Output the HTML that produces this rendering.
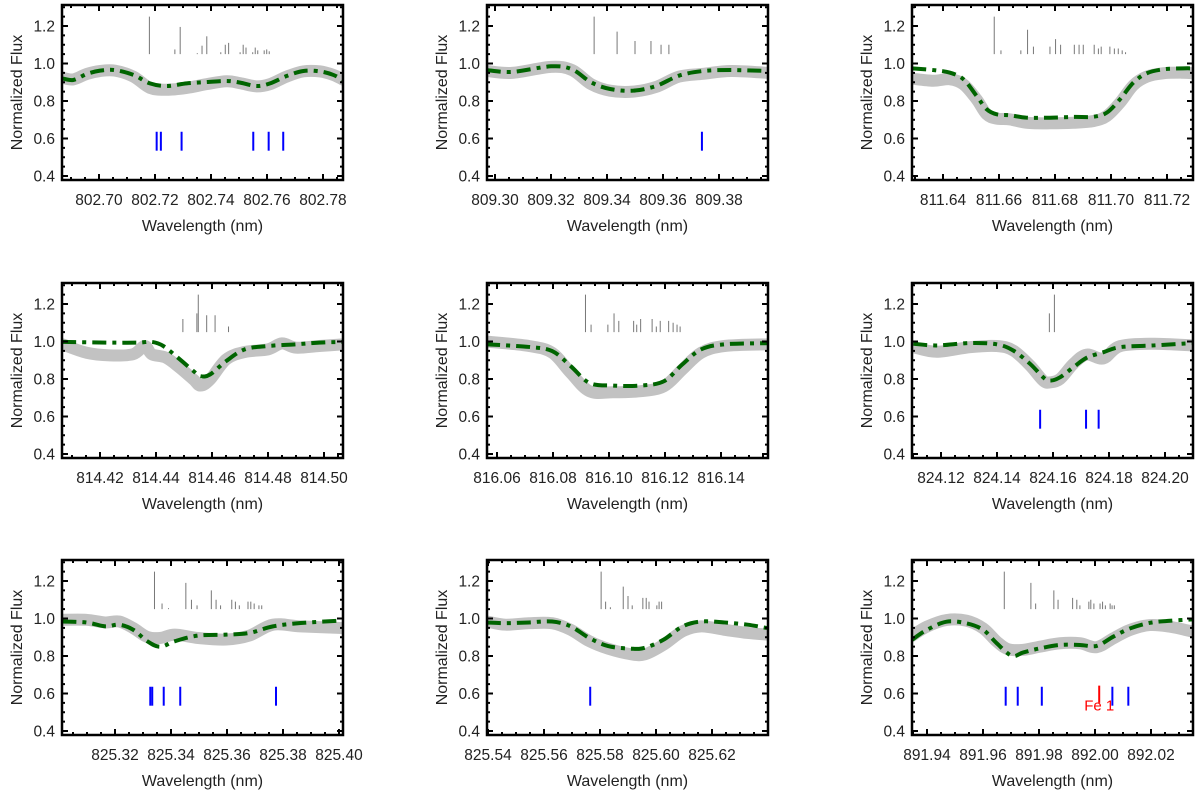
<!DOCTYPE html>
<html><head><meta charset="utf-8"><style>
html,body{margin:0;padding:0;background:#fff;}
svg{display:block;font-family:"Liberation Sans",Arial,sans-serif;}
</style></head><body>
<svg id="fig" width="1200" height="791" viewBox="0 0 1200 791" xmlns="http://www.w3.org/2000/svg"></svg>
<script>
// ---- Data (wavelength in nm, normalized flux) ----
const yTickValues = [1.2, 1.0, 0.8, 0.6, 0.4];
const yTickLabels = ["1.2", "1.0", "0.8", "0.6", "0.4"];
const xMins = [802.68679, 809.29714, 811.62893, 814.40643, 816.05643, 824.10964, 825.30107, 825.53964, 891.93464];
const xFirstTicks = [802.70, 809.30, 811.64, 814.42, 816.06, 824.12, 825.32, 825.54, 891.94];

const p1Wave = [802.6868,802.6908,802.6956,802.7004,802.7057,802.7123,802.7182,802.7242,802.7313,802.7385,802.7456,802.7504,802.7563,802.7611,802.7670,802.7730,802.7789,802.7837,802.7870];
const p1Model = [0.921,0.912,0.944,0.962,0.965,0.939,0.894,0.880,0.894,0.901,0.907,0.898,0.880,0.894,0.933,0.960,0.958,0.939,0.912];
const p1Obs = [0.925,0.915,0.944,0.960,0.962,0.930,0.870,0.860,0.870,0.890,0.905,0.895,0.878,0.890,0.930,0.958,0.958,0.939,0.915];
const p1StickWave = [802.7180,802.7271,802.7290,802.7351,802.7368,802.7385,802.7435,802.7451,802.7463,802.7504,802.7515,802.7525,802.7549,802.7558,802.7567,802.7590,802.7599,802.7608];
const p1StickTop = [1.25,1.075,1.195,1.055,1.095,1.145,1.06,1.10,1.11,1.06,1.10,1.085,1.06,1.085,1.07,1.07,1.075,1.065];
const p1Blue = [802.7206,802.7221,802.7295,802.7551,802.7606,802.7658];

const p2Wave = [809.2971,809.3061,809.3200,809.3275,809.3343,809.3411,809.3493,809.3575,809.3657,809.3743,809.3843,809.3975];
const p2Model = [0.965,0.955,0.985,0.969,0.900,0.864,0.855,0.880,0.935,0.960,0.965,0.960];
const p2Obs = [0.960,0.950,0.982,0.965,0.890,0.855,0.850,0.875,0.930,0.945,0.960,0.950];
const p2StickWave = [809.3354,809.3436,809.3500,809.3557,809.3593,809.3621];
const p2StickTop = [1.25,1.17,1.12,1.12,1.10,1.10];
const p2Blue = [809.3739];

const p3Wave = [811.6290,811.6365,811.6425,811.6473,811.6520,811.6556,811.6592,811.6639,811.6699,811.6782,811.6866,811.6937,811.6985,811.7032,811.7080,811.7128,811.7187,811.7258,811.7294];
const p3Model = [0.974,0.965,0.951,0.916,0.827,0.756,0.729,0.724,0.711,0.711,0.715,0.716,0.738,0.809,0.898,0.948,0.969,0.974,0.974];
const p3Obs = [0.919,0.908,0.916,0.889,0.809,0.729,0.706,0.702,0.684,0.681,0.684,0.693,0.720,0.791,0.884,0.930,0.948,0.951,0.948];
const p3StickWave = [811.6583,811.6607,811.6678,811.6702,811.6723,811.6782,811.6802,811.6820,811.6869,811.6886,811.6901,811.6940,811.6955,811.6965,811.6996,811.7012,811.7026,811.7040,811.7052];
const p3StickTop = [1.25,1.07,1.07,1.18,1.09,1.09,1.13,1.10,1.10,1.10,1.10,1.10,1.08,1.09,1.09,1.08,1.08,1.07,1.06];
const p3Blue = [];

const p4Wave = [814.4065,814.4235,814.4335,814.4385,814.4426,814.4485,814.4534,814.4559,814.4593,814.4651,814.4717,814.4800,814.4900,814.4983,814.5070];
const p4Model = [0.998,0.994,0.994,0.998,0.976,0.905,0.842,0.815,0.824,0.896,0.958,0.976,0.985,0.994,0.998];
const p4ObsWave = [814.4065,814.4152,814.4235,814.4318,814.4360,814.4385,814.4435,814.4485,814.4534,814.4559,814.4593,814.4651,814.4717,814.4800,814.4850,814.4900,814.4983,814.5070];
const p4Obs = [0.985,0.940,0.926,0.932,0.976,0.932,0.914,0.860,0.797,0.765,0.797,0.905,0.944,0.958,0.990,0.967,0.976,0.985];
const p4StickWave = [814.4496,814.4546,814.4551,814.4581,814.4611,814.4659];
const p4StickTop = [1.12,1.15,1.25,1.14,1.14,1.08];
const p4Blue = [];

const p5Wave = [816.0561,816.0714,816.0797,816.0863,816.0930,816.1013,816.1113,816.1196,816.1262,816.1329,816.1412,816.1565];
const p5Model = [0.985,0.971,0.949,0.869,0.779,0.765,0.765,0.788,0.878,0.958,0.985,0.991];
const p5Obs = [1.000,0.976,0.940,0.833,0.735,0.729,0.735,0.761,0.851,0.940,0.976,0.985];
const p5StickWave = [816.0916,816.0936,816.0996,816.1018,816.1035,816.1088,816.1099,816.1113,816.1154,816.1169,816.1183,816.1213,816.1229,816.1243,816.1254];
const p5StickTop = [1.25,1.09,1.09,1.15,1.11,1.11,1.09,1.12,1.12,1.08,1.11,1.11,1.10,1.09,1.08];
const p5Blue = [];

const p6Wave = [824.1101,824.1185,824.1304,824.1399,824.1458,824.1518,824.1565,824.1589,824.1625,824.1673,824.1720,824.1780,824.1839,824.1958,824.2099];
const p6Model = [0.988,0.979,0.992,0.985,0.952,0.881,0.809,0.791,0.809,0.863,0.913,0.943,0.970,0.979,0.992];
const p6Obs = [0.970,0.945,0.970,0.976,0.952,0.872,0.791,0.782,0.800,0.881,0.930,0.910,0.975,0.988,0.979];
const p6StickWave = [824.1587,824.1605];
const p6StickTop = [1.15,1.25];
const p6Blue = [824.1554,824.1718,824.1763];

const p7Wave = [825.3012,825.3098,825.3165,825.3215,825.3265,825.3315,825.3361,825.3414,825.3497,825.3597,825.3680,825.3764,825.3863,825.4013];
const p7Model = [0.984,0.979,0.958,0.967,0.940,0.879,0.849,0.879,0.909,0.914,0.923,0.958,0.976,0.989];
const p7Obs = [0.993,0.993,0.979,0.984,0.949,0.902,0.896,0.914,0.896,0.888,0.909,0.967,0.958,0.949];
const p7StickWave = [825.3341,825.3368,825.3391,825.3453,825.3473,825.3493,825.3544,825.3561,825.3577,825.3617,825.3630,825.3644,825.3675,825.3685,825.3697,825.3714,825.3724];
const p7StickTop = [1.25,1.08,1.055,1.19,1.10,1.07,1.15,1.10,1.07,1.10,1.09,1.07,1.09,1.09,1.08,1.07,1.07];
const p7Blue = [825.3326,825.3333,825.3374,825.3433,825.3775];

const p8Wave = [825.5396,825.5463,825.5546,825.5629,825.5695,825.5762,825.5829,825.5912,825.5961,825.6028,825.6095,825.6161,825.6244,825.6327,825.6397];
const p8Model = [0.979,0.975,0.979,0.984,0.958,0.896,0.853,0.839,0.844,0.888,0.958,0.984,0.979,0.967,0.949];
const p8Obs = [0.984,0.967,0.975,0.975,0.940,0.879,0.839,0.809,0.809,0.861,0.932,0.958,0.940,0.923,0.914];
const p8StickWave = [825.5804,825.5820,825.5837,825.5883,825.5900,825.5915,825.5953,825.5965,825.5975,825.6003,825.6011,825.6020];
const p8StickTop = [1.25,1.09,1.06,1.17,1.12,1.07,1.11,1.11,1.09,1.07,1.09,1.09];
const p8Blue = [825.5765];

const p9Wave = [891.9346,891.9399,891.9470,891.9542,891.9601,891.9649,891.9703,891.9744,891.9804,891.9875,891.9946,892.0006,892.0065,892.0125,892.0196,892.0268,892.0349];
const p9Model = [0.886,0.939,0.983,0.974,0.939,0.868,0.801,0.819,0.841,0.859,0.859,0.854,0.903,0.947,0.977,0.988,0.995];
const p9ObsWave = [891.9346,891.9399,891.9470,891.9542,891.9601,891.9649,891.9690,891.9744,891.9804,891.9875,891.9946,892.0006,892.0065,892.0125,892.0196,892.0268,892.0349];
const p9Obs = [0.907,0.956,0.992,0.988,0.947,0.877,0.836,0.833,0.850,0.868,0.868,0.847,0.894,0.939,0.965,0.956,0.930];
const p9StickWave = [891.9676,891.9771,891.9788,891.9853,891.9868,891.9920,891.9935,891.9946,891.9978,891.9985,891.9996,892.0018,892.0027,892.0037,892.0054,892.0061,892.0069];
const p9StickTop = [1.25,1.19,1.08,1.15,1.10,1.11,1.10,1.07,1.09,1.10,1.08,1.08,1.09,1.07,1.08,1.07,1.07];
const p9Blue = [891.9681,891.9724,891.9810,892.0062,892.0119];
const p9Red = [892.0015];
const p9RedLabel = ["Fe 1"];

const panelData = [
  [p1Wave,p1Model,p1Wave,p1Obs,p1StickWave,p1StickTop,p1Blue,[],[]],
  [p2Wave,p2Model,p2Wave,p2Obs,p2StickWave,p2StickTop,p2Blue,[],[]],
  [p3Wave,p3Model,p3Wave,p3Obs,p3StickWave,p3StickTop,p3Blue,[],[]],
  [p4Wave,p4Model,p4ObsWave,p4Obs,p4StickWave,p4StickTop,p4Blue,[],[]],
  [p5Wave,p5Model,p5Wave,p5Obs,p5StickWave,p5StickTop,p5Blue,[],[]],
  [p6Wave,p6Model,p6Wave,p6Obs,p6StickWave,p6StickTop,p6Blue,[],[]],
  [p7Wave,p7Model,p7Wave,p7Obs,p7StickWave,p7StickTop,p7Blue,[],[]],
  [p8Wave,p8Model,p8Wave,p8Obs,p8StickWave,p8StickTop,p8Blue,[],[]],
  [p9Wave,p9Model,p9ObsWave,p9Obs,p9StickWave,p9StickTop,p9Blue,p9Red,p9RedLabel]
];

// ---- Layout ----
const NS = "http://www.w3.org/2000/svg";
const svg = document.getElementById("fig");
const colLeft = [62, 487, 912];
const rowY12 = [26, 304, 581];
const boxW = 281, pxPerNm = 2800, pxPerUnit = 187.5;

function mk(tag, attrs, parent){
  const e = document.createElementNS(NS, tag);
  for (const k in attrs) e.setAttribute(k, attrs[k]);
  (parent || svg).appendChild(e);
  return e;
}
function smoothPath(pts){
  let d = "M" + pts[0][0].toFixed(2) + "," + pts[0][1].toFixed(2);
  for (let i = 0; i < pts.length - 1; i++){
    const p0 = pts[i-1] || pts[i], p1 = pts[i], p2 = pts[i+1], p3 = pts[i+2] || p2;
    const c1x = p1[0] + (p2[0]-p0[0])/6, c1y = p1[1] + (p2[1]-p0[1])/6;
    const c2x = p2[0] - (p3[0]-p1[0])/6, c2y = p2[1] - (p3[1]-p1[1])/6;
    d += " C" + c1x.toFixed(2)+","+c1y.toFixed(2)+" "+c2x.toFixed(2)+","+c2y.toFixed(2)+" "+p2[0].toFixed(2)+","+p2[1].toFixed(2);
  }
  return d;
}

panelData.forEach((pd, i) => {
  const col = i % 3, row = Math.floor(i / 3);
  const left = colLeft[col], y12 = rowY12[row];
  const top = y12 - 21, bottom = y12 + 154;
  const xMin = xMins[i];
  const xs = w => left + (w - xMin) * pxPerNm;
  const ys = v => y12 + (1.2 - v) * pxPerUnit;
  const [mW, mV, oW, oV, sW, sT, blue, red, redLbl] = pd;

  const g = mk("g", {});
  
  

  const clip = mk("clipPath", {id: "clip" + i}, g);
  mk("rect", {x: left, y: top, width: boxW, height: bottom - top}, clip);
  const plot = mk("g", {"clip-path": "url(#clip" + i + ")"}, g);

  // observed spectrum (thick gray)
  const obs = mk("path", {d: smoothPath(oW.map((w,k)=>[xs(w), ys(oV[k])])), fill: "none", stroke: "#c2c2c2", "stroke-width": 12, "stroke-linecap": "round", "stroke-linejoin": "round"}, plot);
  
  
  // model spectrum (green dash-dot)
  const mod = mk("path", {d: smoothPath(mW.map((w,k)=>[xs(w), ys(mV[k])])), fill: "none", stroke: "#006400", "stroke-width": 4, "stroke-dasharray": "14,6,4,6"}, plot);
  
  

  // line-strength sticks
  sW.forEach((w, k) => {
    const s = mk("line", {x1: xs(w), x2: xs(w), y1: ys(1.05), y2: ys(sT[k]), stroke: "#777", "stroke-width": 1}, plot);
    
    
  });
  // blue line markers
  blue.forEach(w => {
    const b = mk("line", {x1: xs(w), x2: xs(w), y1: ys(0.535), y2: ys(0.636), stroke: "#0000ff", "stroke-width": 2}, plot);
    
    
  });
  red.forEach((w, k) => {
    const r = mk("line", {x1: xs(w), x2: xs(w), y1: ys(0.55), y2: ys(0.642), stroke: "#ff0000", "stroke-width": 2}, plot);
    
    
    const t = mk("text", {x: xs(w), y: ys(0.51), "text-anchor": "middle", fill: "#ff0000", "font-size": 15}, g);
    t.textContent = redLbl[k];
    
    
  });

  // ticks
  const xMax = xMin + boxW / pxPerNm;
  for (let k = Math.ceil(xMin/0.005 - 1e-6); k*0.005 <= xMax + 1e-9; k++){
    const w = k*0.005, x = xs(w);
    const major = Math.abs(w/0.02 - Math.round(w/0.02)) < 1e-4;
    const len = major ? 6 : 3;
    mk("line", {x1: x, x2: x, y1: bottom, y2: bottom - len, stroke: "#000", "stroke-width": 2}, g);
    mk("line", {x1: x, x2: x, y1: top, y2: top + len, stroke: "#000", "stroke-width": 2}, g);
  }
  for (let k = 8; k <= 26; k++){
    const v = k*0.05, y = ys(v);
    if (y < top || y > bottom) continue;
    const len = (k % 4 === 0) ? 6 : 3;
    mk("line", {x1: left, x2: left + len, y1: y, y2: y, stroke: "#000", "stroke-width": 2}, g);
    mk("line", {x1: left + boxW, x2: left + boxW - len, y1: y, y2: y, stroke: "#000", "stroke-width": 2}, g);
  }
  // frame
  const fr = mk("rect", {x: left, y: top, width: boxW, height: bottom - top, fill: "none", stroke: "#000", "stroke-width": 2.5}, g);
  
  

  // y tick labels
  yTickValues.forEach((v, k) => {
    const t = mk("text", {x: left - 7, y: ys(v) + 5.5, "text-anchor": "end", "font-size": 15.5, fill: "#222"}, g);
    t.textContent = yTickLabels[k];
    
    
  });
  // x tick labels
  for (let k = 0; k < 5; k++){
    const w = xFirstTicks[i] + 0.02*k;
    const t = mk("text", {x: xs(w), y: bottom + 25, "text-anchor": "middle", "font-size": 15.5, fill: "#222"}, g);
    t.textContent = w.toFixed(2);
    
    
  }
  // axis titles
  const xt = mk("text", {x: left + boxW/2, y: bottom + 51, "text-anchor": "middle", "font-size": 16, fill: "#222"}, g);
  xt.textContent = "Wavelength (nm)";
  
  
  const cy = (top + bottom)/2, cx = left - 40;
  const yt = mk("text", {x: cx, y: cy, "text-anchor": "middle", "font-size": 16, fill: "#222", transform: "rotate(-90 " + cx + " " + cy + ")"}, g);
  yt.textContent = "Normalized Flux";
  
  
});
</script>
</body></html>
